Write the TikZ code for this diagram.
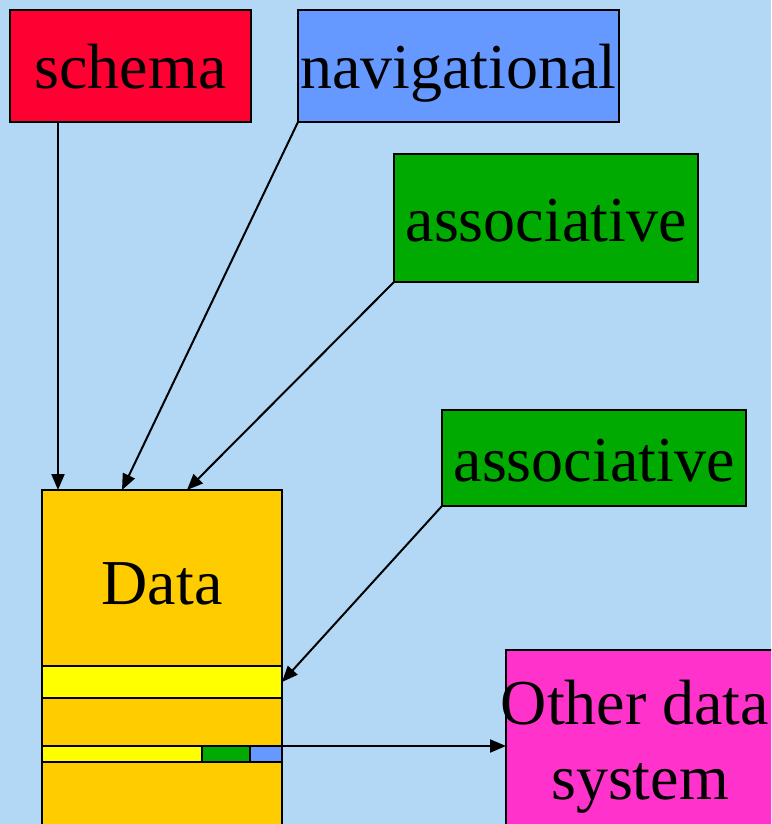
\documentclass[tikz,border=0pt]{standalone}
\usepackage{fontspec}
\setmainfont{Liberation Serif}
\usetikzlibrary{calc,arrows.meta}
\definecolor{bg}{RGB}{178,216,245}
\definecolor{schemared}{RGB}{255,0,51}
\definecolor{navblue}{RGB}{102,153,255}
\definecolor{assocgreen}{RGB}{0,170,0}
\definecolor{dataorange}{RGB}{255,204,0}
\definecolor{stripyellow}{RGB}{255,255,0}
\definecolor{othermagenta}{RGB}{255,51,204}
\tikzset{
  plainbox/.style={draw=black, line width=2.2pt, rectangle, inner sep=0pt, outer sep=0pt},
  boxstyle/.style={plainbox, font=\fontsize{64}{75}\selectfont, text height=46pt, text depth=0pt},
  labeltext/.style={font=\fontsize{64}{75}\selectfont, anchor=base, inner sep=0pt},
  arr/.style={line width=2pt, -{Triangle[length=16pt,width=13pt]}},
}
\begin{document}
\begin{tikzpicture}[x=1pt,y=-1pt]
\clip (0,0) rectangle (771,824);
\fill[bg] (0,0) rectangle (771,824);
\node[boxstyle, fill=schemared, minimum width=241pt, minimum height=112pt] (schema) at (130.5,66) {schema};
\node[boxstyle, fill=navblue, minimum width=321pt, minimum height=112pt] (nav) at (458.5,66) {navigational};
\node[boxstyle, fill=assocgreen, minimum width=304pt, minimum height=128pt] (assoca) at (546,218) {associative};
\node[boxstyle, fill=assocgreen, minimum width=304pt, minimum height=96pt] (assocb) at (594,458) {associative};
\node[plainbox, fill=dataorange, minimum width=240pt, minimum height=360pt] (data) at (162,670) {};
\node[labeltext] (datalabel) at (162,604) {Data};
\node[plainbox, fill=stripyellow, minimum width=240pt, minimum height=32pt] (stripa) at (162,682) {};
\node[plainbox, fill=stripyellow, minimum width=160pt, minimum height=16pt] (stripy) at (122,754) {};
\node[plainbox, fill=assocgreen, minimum width=48pt, minimum height=16pt] (stripg) at (226,754) {};
\node[plainbox, fill=navblue, minimum width=32pt, minimum height=16pt] (stripb) at (266,754) {};
\node[plainbox, fill=othermagenta, minimum width=284pt, minimum height=200pt] (other) at (648,750) {};
\node[labeltext] (otherlabela) at (635,724) {Other data};
\node[labeltext] (otherlabelb) at (640,799) {system};
\draw[arr] ($(schema.south west)+(48,0)$) -- ($(data.north west)+(16,0)$);
\draw[arr] (nav.south west) -- ($(data.north west)+(80,0)$);
\draw[arr] (assoca.south west) -- ($(data.north west)+(145,0)$);
\draw[arr] (assocb.south west) -- (stripa.east);
\draw[arr] (stripb.north east) -- (stripb.north east -| other.west);
\end{tikzpicture}
\end{document}
